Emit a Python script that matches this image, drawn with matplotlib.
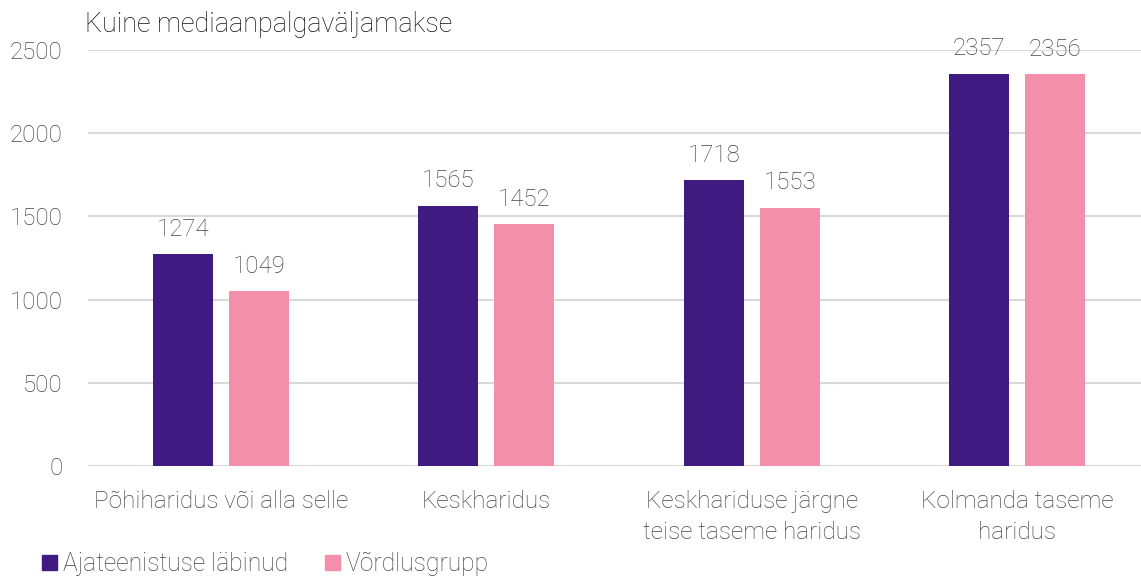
from matplotlib import pyplot as plt
from matplotlib.patches import Patch
import numpy as np

plt.rcParams['font.family'] = ['Roboto', 'DejaVu Sans']

categories = ['Põhiharidus või alla selle', 'Keskharidus',
              'Keskhariduse järgne\nteise taseme haridus', 'Kolmanda taseme\nharidus']
series_names = ['Ajateenistuse läbinud', 'Võrdlusgrupp']
served = [1274, 1565, 1718, 2357]
control = [1049, 1452, 1553, 2356]

purple = '#3F1A80'
pink = '#F48FAB'
grey = '#454545'

fig = plt.figure(figsize=(11.41, 5.79), dpi=100)
ax = fig.add_axes([88 / 1141, 113 / 579, (1141 - 88) / 1141, 416 / 579])

x = np.arange(len(categories))
w = 0.226
off = 0.143
b1 = ax.bar(x - off, served, w, color=purple, zorder=3)
b2 = ax.bar(x + off, control, w, color=pink, zorder=3)

for bars in (b1, b2):
    for r in bars:
        ax.text(r.get_x() + r.get_width() / 2, r.get_height() + 150, str(int(r.get_height())),
                ha='center', va='center', fontsize=17.3, color=grey, fontweight='light')

ax.set_ylim(0, 2500)
ax.set_xlim(-0.5, 3.466)
ax.set_yticks(range(0, 2501, 500))
ax.yaxis.grid(True, color='#D9D9D9', linewidth=1.5, zorder=0)
ax.set_axisbelow(True)
for s in ax.spines.values():
    s.set_visible(False)
ax.tick_params(axis='both', length=0, labelsize=17.3, labelcolor=grey)
ax.tick_params(axis='y', pad=18.5)
ax.tick_params(axis='x', pad=17)
ax.set_xticks(x)
ax.set_xticklabels(categories, linespacing=1.45)
for lbl in ax.get_xticklabels():
    lbl.set_fontsize(17.5)
for lbl in ax.get_xticklabels() + ax.get_yticklabels():
    lbl.set_fontweight('light')

fig.text(85 / 1141, 1 - 25 / 579, 'Kuine mediaanpalgaväljamakse', fontsize=19.4,
         color='#111111', va='center', ha='left', fontweight='light')

handles = [Patch(color=purple), Patch(color=pink)]
leg = fig.legend(handles, series_names, loc='lower left', bbox_to_anchor=(0.0176, -0.033),
                 ncol=2, frameon=False, fontsize=17.7, handlelength=0.6, handleheight=0.6,
                 handletextpad=0.25, columnspacing=1.5)
for t in leg.get_texts():
    t.set_color(grey)
    t.set_fontweight('light')

fig.savefig('out.png', dpi=100)
